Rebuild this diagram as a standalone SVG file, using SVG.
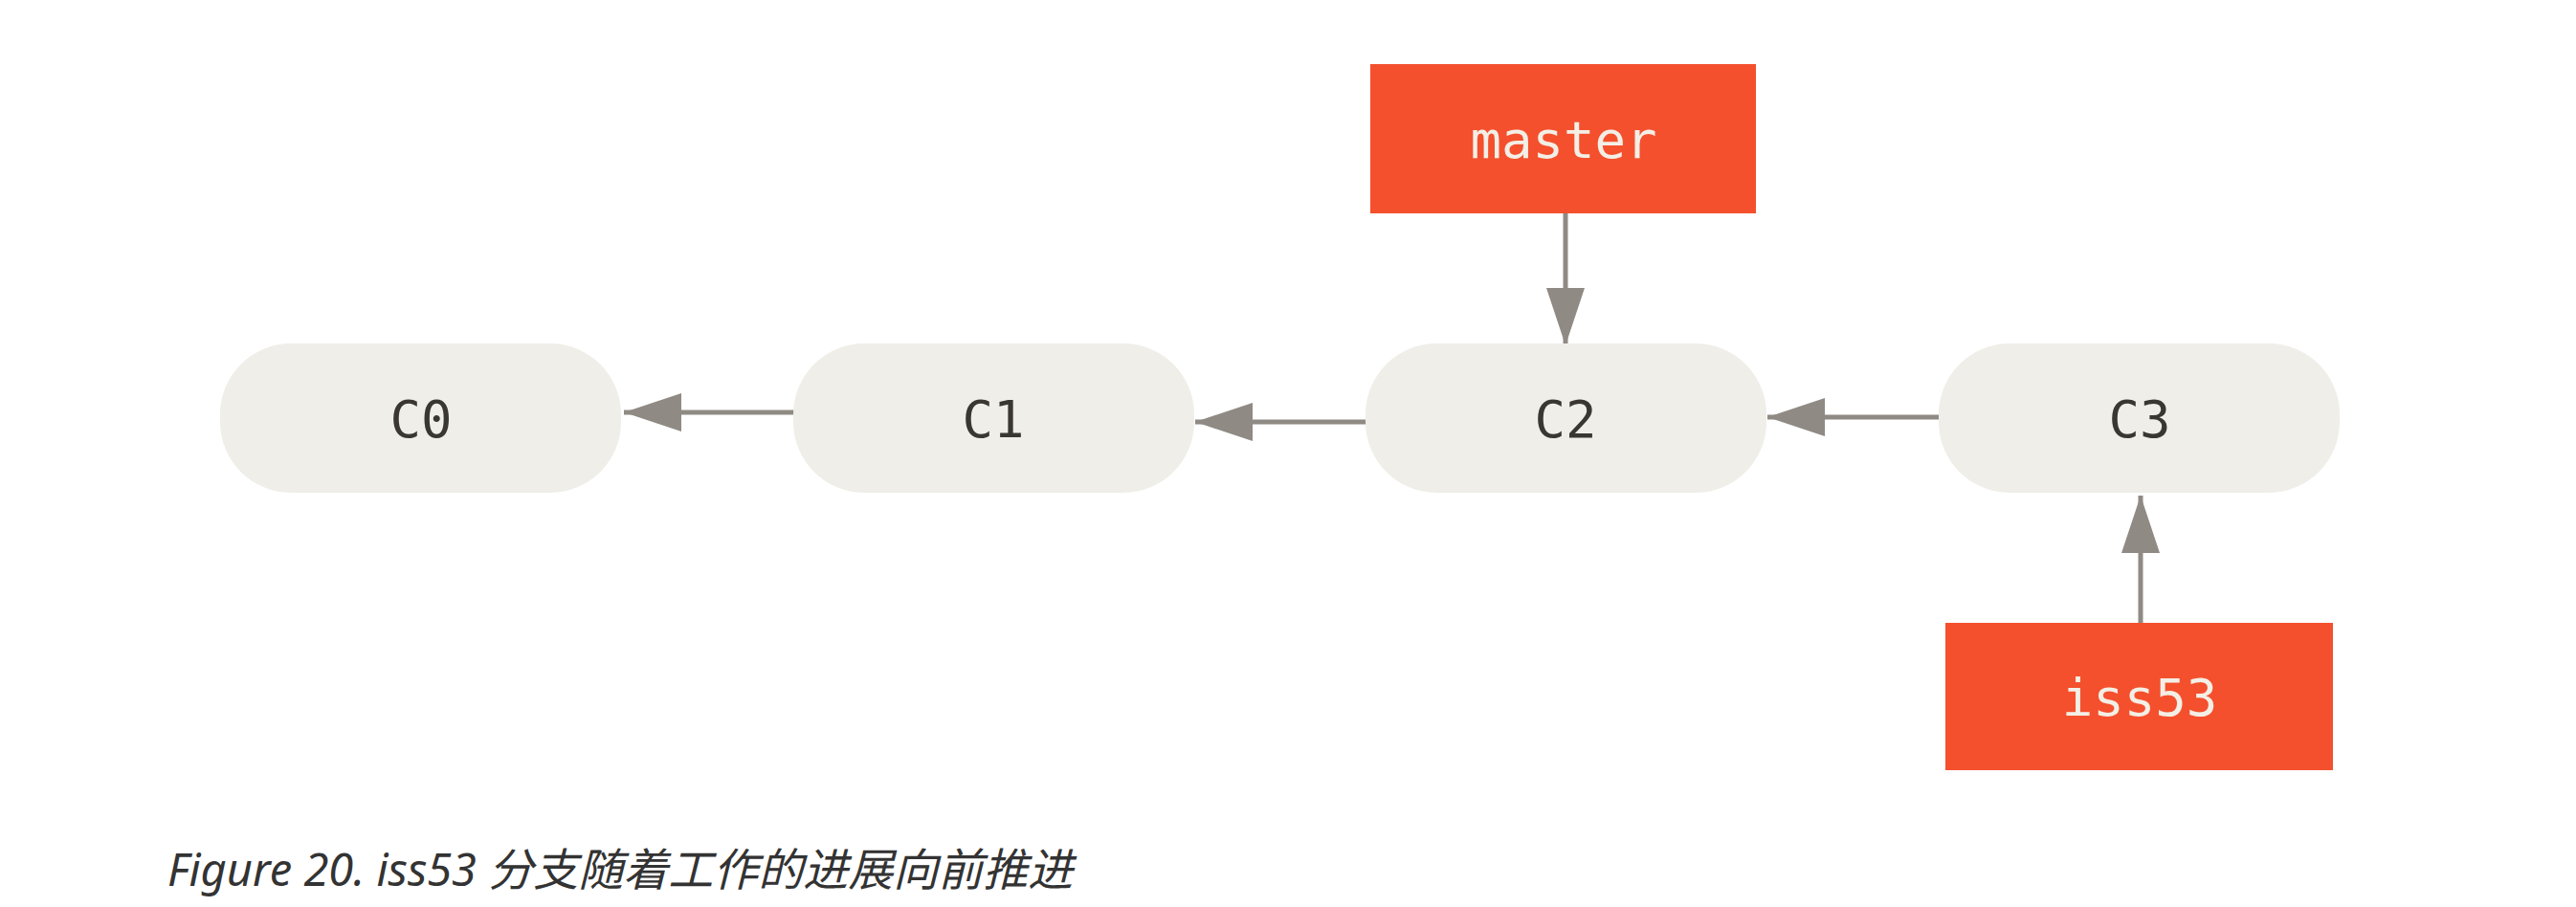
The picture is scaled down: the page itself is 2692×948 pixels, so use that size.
<svg xmlns="http://www.w3.org/2000/svg" width="2692" height="948" viewBox="0 0 2692 948">
<style>
.commit{fill:#efeee8}
.ctext{font-family:"DejaVu Sans Mono","Liberation Mono",monospace;font-size:54px;fill:#3a3733;text-anchor:middle}
.branch{fill:#f4502d}
.btext{font-family:"DejaVu Sans Mono","Liberation Mono",monospace;font-size:54px;fill:#f3efe6;text-anchor:middle}
.edge{stroke:#8f8a83;stroke-width:5;fill:none}
.cap{font-family:"Noto Sans","Noto Sans CJK SC",sans-serif;font-style:italic;font-size:47px;fill:#333}
</style>
<defs>
<marker id="ah" viewBox="0 0 12 8" refX="12" refY="4" markerWidth="12" markerHeight="8" markerUnits="strokeWidth" orient="auto">
<path d="M0,0 L12,4 L0,8 Z" fill="#8f8a83"/>
</marker>
</defs>
<g id="connectors">
<line class="edge" x1="855" y1="431" x2="652" y2="431" marker-end="url(#ah)"/>
<line class="edge" x1="1454" y1="441" x2="1249" y2="441" marker-end="url(#ah)"/>
<line class="edge" x1="2026" y1="436" x2="1847" y2="436" marker-end="url(#ah)"/>
<line class="edge" x1="1636" y1="223" x2="1636" y2="361" marker-end="url(#ah)"/>
<line class="edge" x1="2237" y1="651" x2="2237" y2="518" marker-end="url(#ah)"/>
</g>
<g id="C0"><rect class="commit" x="230" y="359" width="419" height="156" rx="74"/><text class="ctext" x="440" y="457">C0</text></g>
<g id="C1"><rect class="commit" x="829" y="359" width="419" height="156" rx="74"/><text class="ctext" x="1038" y="457">C1</text></g>
<g id="C2"><rect class="commit" x="1427" y="359" width="419" height="156" rx="74"/><text class="ctext" x="1636" y="457">C2</text></g>
<g id="C3"><rect class="commit" x="2026" y="359" width="419" height="156" rx="74"/><text class="ctext" x="2236" y="457">C3</text></g>
<g id="master"><rect class="branch" x="1432" y="67" width="403" height="156"/><text class="btext" x="1634" y="165">master</text></g>
<g id="iss53"><rect class="branch" x="2033" y="651" width="405" height="154"/><text class="btext" x="2236" y="748">iss53</text></g>
<g id="caption"><text class="cap" x="175" y="926">Figure 20. iss53 分支随着工作的进展向前推进</text></g>
</svg>
